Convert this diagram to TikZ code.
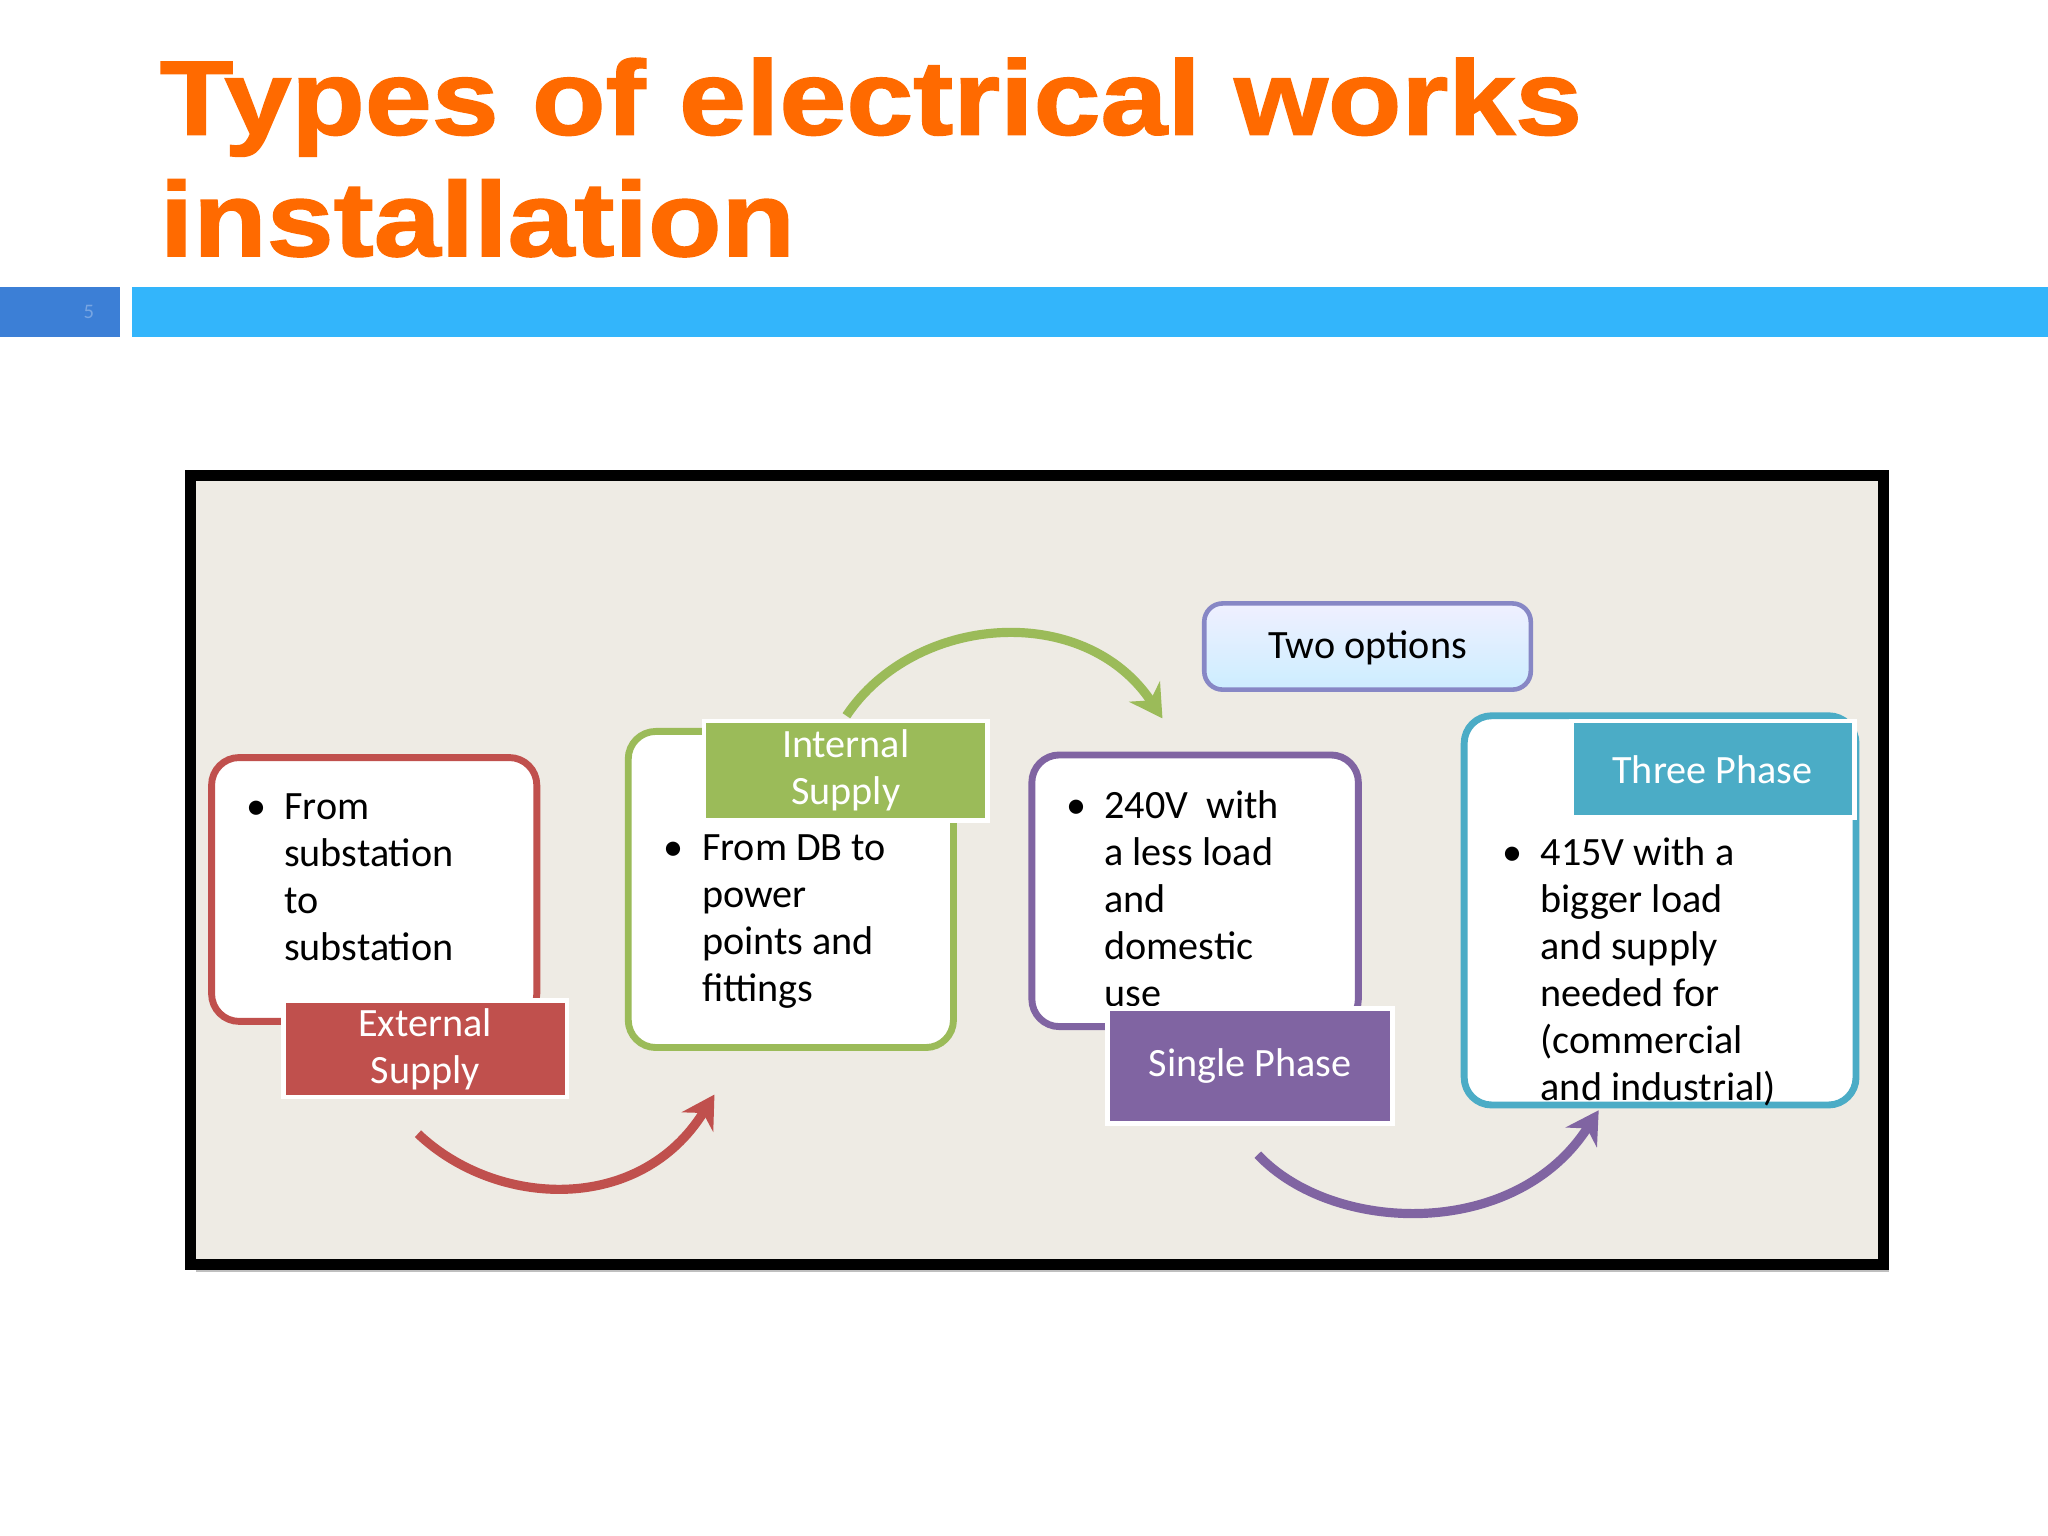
\documentclass[tikz,border=0pt]{standalone}
\usepackage{fontspec}
\setmainfont{Carlito}
\newfontfamily\titlefont[FakeStretch=1.14, FakeBold=1.5]{Liberation Sans}
\usetikzlibrary{arrows.meta}
\definecolor{ttl}{HTML}{FF6A00}
\definecolor{bar1}{HTML}{3C7FD6}
\definecolor{bar2}{HTML}{33B5FB}
\definecolor{bg}{HTML}{EEEBE4}
\definecolor{cred}{HTML}{C0504D}
\definecolor{cgreen}{HTML}{9BBB59}
\definecolor{cpurple}{HTML}{8064A2}
\definecolor{cteal}{HTML}{4BACC6}
\tikzset{
  box/.style={draw, line width=3pt, rounded corners=12pt, fill=white},
  labfill/.style={draw=white, line width=2pt},
  labtxt/.style={text=white, align=center, font=\fontsize{17.5}{20.5}\selectfont},
  btxt/.style={anchor=north west, align=left, font=\fontsize{17.5}{20.5}\selectfont, inner sep=0pt},
  arc/.style={line width=4pt, -{Stealth[length=14pt,width=16pt]}}
}
\begin{document}
\begin{tikzpicture}[x=0.02cm,y=-0.02cm]
\useasboundingbox (0,0) rectangle (1568,1176);
\fill[white] (0,0) rectangle (1568,1176);
\node[anchor=base west, text=ttl, font=\titlefont\bfseries\fontsize{46}{54}\selectfont, inner sep=0pt] (t1) at (122,103) {Types of electrical works};
\node[anchor=base west, text=ttl, font=\titlefont\bfseries\fontsize{46}{54}\selectfont, inner sep=0pt] (t2) at (122,196) {installation};
\fill[bar1] (0,220) rectangle (92,258);
\node[text=bar1!70!white, font=\fontsize{9}{10}\selectfont] (pg) at (68,239) {5};
\fill[bar2] (101,220) rectangle (1568,258);
\fill[gray!50] (150,968) rectangle (1446,974);
\draw[line width=5pt, fill=bg] (146,364) rectangle (1442,968);
% red
\draw[box, draw=cred] (162,580) rectangle (411,782);
\node[btxt] (rt) at (188,607) {\textbullet\ \ From\\\hphantom{\textbullet\ \ }substation\\\hphantom{\textbullet\ \ }to\\\hphantom{\textbullet\ \ }substation};
\filldraw[labfill, fill=cred] (217,766) rectangle (434,840);
\node[labtxt] (extt) at (325.5,803) {External\\Supply};
% green
\draw[box, draw=cgreen] (481,560) rectangle (730,802);
\filldraw[labfill, fill=cgreen] (539,552) rectangle (756,628);
\node[labtxt] (intl) at (647.5,590) {Internal\\Supply};
\node[btxt] (gt) at (508,639) {\textbullet\ \ From DB to\\\hphantom{\textbullet\ \ }power\\\hphantom{\textbullet\ \ }points and\\\hphantom{\textbullet\ \ }fittings};
% purple
\draw[box, draw=cpurple] (790,578) rectangle (1040,786);
\node[btxt] (pt) at (816,605) {\textbullet\ \ 240V\ \ with\\\hphantom{\textbullet\ \ }a less load\\\hphantom{\textbullet\ \ }and\\\hphantom{\textbullet\ \ }domestic\\\hphantom{\textbullet\ \ }use};
\filldraw[labfill, fill=cpurple] (848,772) rectangle (1066,860);
\node[labtxt] (sp) at (957,816) {Single Phase};
% teal
\draw[box, draw=cteal] (1121,548) rectangle (1421,846);
\filldraw[labfill, fill=cteal] (1203,552) rectangle (1420,626);
\node[labtxt] (tp) at (1311,589) {Three Phase};
\node[btxt] (tt) at (1150,641) {\textbullet\ \ 415V with a\\\hphantom{\textbullet\ \ }bigger load\\\hphantom{\textbullet\ \ }and supply\\\hphantom{\textbullet\ \ }needed for\\\hphantom{\textbullet\ \ }(commercial\\\hphantom{\textbullet\ \ }and industrial)};
% two options
\shade[top color=blue!6, bottom color=blue!35!cyan!20, rounded corners=8pt] (922,462) rectangle (1172,528);
\draw[blue!35!gray!70, line width=2pt, rounded corners=8pt] (922,462) rectangle (1172,528);
\node[font=\fontsize{17.5}{20.5}\selectfont] (two) at (1047,496) {Two options};
% arcs
\coordinate (r1) at (320,868); \coordinate (r2) at (547,838);
\draw[arc, draw=cred] (r1) .. controls (380,925) and (490,930) .. (r2);
\coordinate (g1) at (648,548); \coordinate (g2) at (890,550);
\draw[arc, draw=cgreen] (g1) .. controls (700,470) and (830,460) .. (g2);
\coordinate (p1) at (963,884); \coordinate (p2) at (1224,850);
\draw[arc, draw=cpurple] (p1) .. controls (1020,945) and (1160,950) .. (p2);
\end{tikzpicture}
\end{document}
